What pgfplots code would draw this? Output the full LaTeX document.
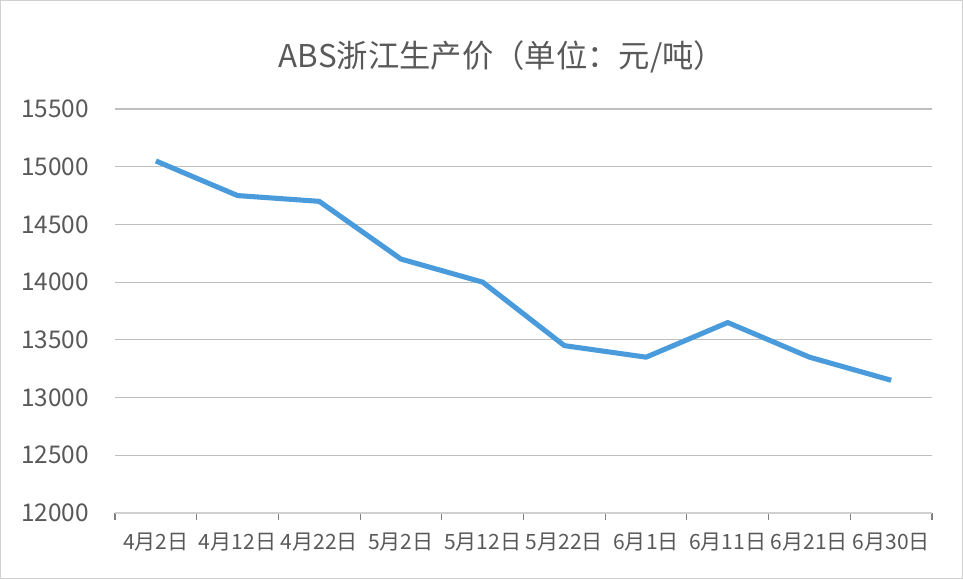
\documentclass[border=0pt]{standalone}
\usepackage{pgfplots}
\pgfplotsset{compat=1.18}
\usepackage{fontspec}
\setmainfont{Noto Sans CJK SC}
\definecolor{txt}{HTML}{595959}
\definecolor{grid}{HTML}{D0D0D0}
\definecolor{series}{HTML}{4A9BDB}
\begin{document}
\begin{tikzpicture}
\draw[grid, line width=0.8pt] (0.4pt,0.4pt) rectangle (721.85pt,433.85pt);
\node[txt, font=\fontsize{23.5}{26}\selectfont] at (376.5pt,391.5pt) {ABS浙江生产价（单位：元/吨）};
\begin{axis}[
    at={(86.25pt,49.5pt)}, anchor=south west,
    scale only axis, width=612.75pt, height=303pt,
    xmin=-0.5, xmax=9.5, ymin=12000, ymax=15500,
    ytick={12000,12500,...,15500},
    scaled y ticks=false,
    xtick={0,...,9},
    xticklabels={4月2日,4月12日,4月22日,5月2日,5月12日,5月22日,6月1日,6月11日,6月21日,6月30日},
    minor xtick={-0.5,0.5,...,9.5},
    /pgf/number format/assume math mode=true,
    /pgf/number format/1000 sep=,
    axis line style={draw=none},
    ymajorgrids, xmajorgrids=false,
    major grid style={grid, line width=0.8pt},
    major tick length=0pt, minor tick length=5pt,
    tick align=outside, xtick pos=bottom, ytick pos=left,
    minor tick style={grid, line width=0.8pt},
    yticklabel style={txt, font=\fontsize{18.3}{20}\selectfont, anchor=east, xshift=-16pt},
    xticklabel style={txt, font=\fontsize{15.8}{17}\selectfont, anchor=center, yshift=-21.75pt},
    clip=false,
]
\addplot[series, line width=3.8pt, line join=round, mark=none] coordinates {
(0,15050) (1,14750) (2,14700) (3,14200) (4,14000) (5,13450) (6,13350) (7,13650) (8,13350) (9,13150)};
\draw[grid, line width=0.8pt] (axis cs:-0.5,12000) -- (axis cs:9.5,12000);
\end{axis}
\end{tikzpicture}
\end{document}
